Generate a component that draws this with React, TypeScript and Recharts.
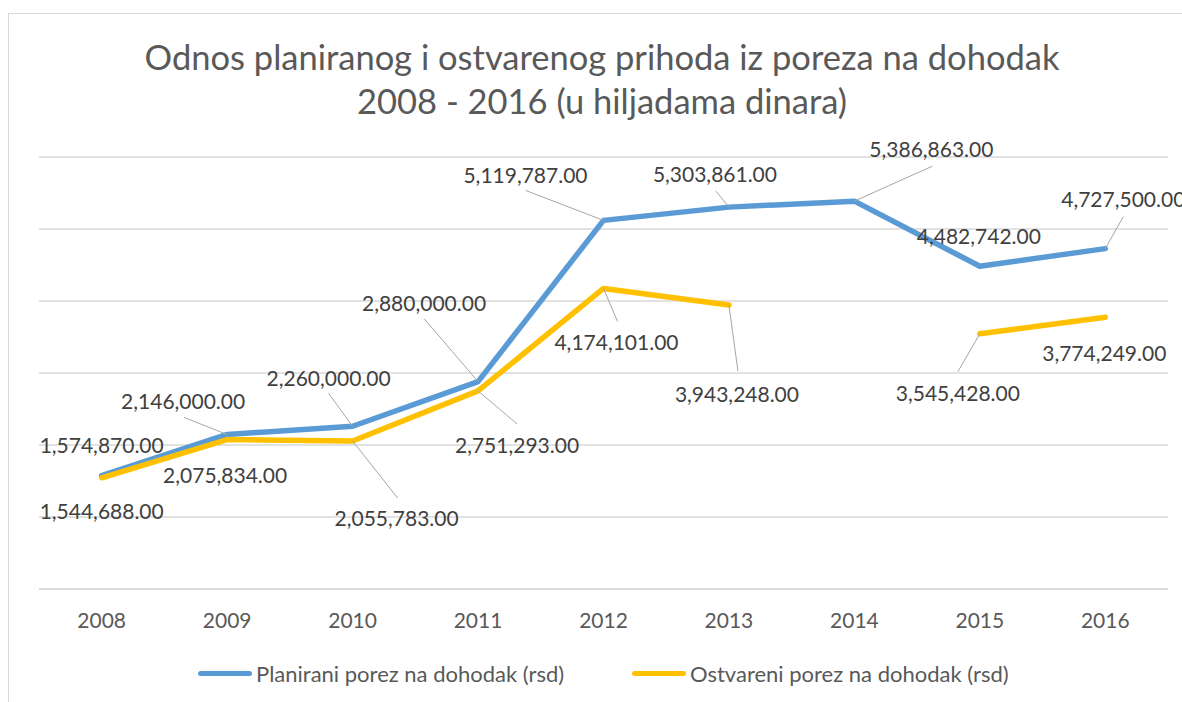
import { LineChart, Line, XAxis, YAxis, CartesianGrid, Legend, LabelList } from 'recharts'

const years = ['2008', '2009', '2010', '2011', '2012', '2013', '2014', '2015', '2016']
const planned = [1574870, 2146000, 2260000, 2880000, 5119787, 5303861, 5386863, 4482742, 4727500]
const realized = [1544688, 2075834, 2055783, 2751293, 4174101, 3943248, null, 3545428, 3774249]
const yTicks = [0, 1000000, 2000000, 3000000, 4000000, 5000000, 6000000]

const seriesNames = ['Planirani porez na dohodak (rsd)', 'Ostvareni porez na dohodak (rsd)']

const data = years.map((year, i) => ({ year, planned: planned[i], realized: realized[i] }))

// where each data label sits relative to its point (dx/dy = text centre, lx/ly = leader line end)
const plannedLabelPos = [
  { dx: 0, dy: -31 },
  { dx: -44, dy: -34, lx: -43, ly: -17 },
  { dx: -24, dy: -49, lx: -24, ly: -33 },
  { dx: -54, dy: -79, lx: -54, ly: -63 },
  { dx: -78, dy: -46, lx: -78, ly: -30 },
  { dx: -14, dy: -34, lx: -13, ly: -16 },
  { dx: 77, dy: -53, lx: 78, ly: -35 },
  { dx: -1, dy: -31 },
  { dx: 18, dy: -50, lx: 18, ly: -32 },
]
const realizedLabelPos = [
  { dx: 0, dy: 33 },
  { dx: -2, dy: 35 },
  { dx: 44, dy: 77, lx: 45, ly: 57 },
  { dx: 39, dy: 54, lx: 39, ly: 33 },
  { dx: 13, dy: 53, lx: 14, ly: 33 },
  { dx: 8, dy: 88, lx: 9, ly: 66 },
  null,
  { dx: -22, dy: 59, lx: -22, ly: 38 },
  { dx: -1, dy: 35 },
]
const legendLeft = [189, 623]

const FONT = 'Lato, "Open Sans", sans-serif'

const fmt = (v: number) =>
  v.toLocaleString('en-US', { minimumFractionDigits: 2, maximumFractionDigits: 2 })

const makeLabel = (pos) => (props) => {
  const { x, y, value, index } = props
  const p = pos[index]
  if (value == null || !p) return null
  return (
    <g>
      {p.lx != null && (
        <line x1={x} y1={y} x2={x + p.lx} y2={y + p.ly} stroke="#a6a6a6" strokeWidth={1} />
      )}
      <text
        x={x + p.dx}
        y={y + p.dy}
        textAnchor="middle"
        dominantBaseline="central"
        fill="#404040"
        fontSize={21}
        fontFamily={FONT}
      >
        {fmt(value)}
      </text>
    </g>
  )
}

const renderLegend = (props) => {
  const items = [...(props.payload || [])].sort(
    (a, b) => seriesNames.indexOf(a.value) - seriesNames.indexOf(b.value)
  )
  return (
    <div style={{ position: 'relative', height: 40, fontFamily: FONT, fontSize: 22, color: '#595959' }}>
      {items.map((entry, i) => (
        <div
          key={entry.value}
          style={{ position: 'absolute', left: legendLeft[i], top: 0, height: 22, display: 'flex', alignItems: 'center' }}
        >
          <div style={{ width: 54, height: 5, borderRadius: 3, background: entry.color, marginRight: 4 }} />
          <span style={{ whiteSpace: 'nowrap' }}>{entry.value}</span>
        </div>
      ))}
    </div>
  )
}

export default function App() {
  return (
    <div
      style={{
        position: 'fixed',
        left: 8,
        top: 13,
        width: 1173,
        height: 688,
        borderTop: '1px solid #d9d9d9',
        borderLeft: '1px solid #d9d9d9',
        background: '#fff',
        overflow: 'hidden',
      }}
    >
      <div
        style={{
          position: 'absolute',
          top: 21,
          left: 0,
          width: 1186,
          textAlign: 'center',
          fontFamily: FONT,
          fontSize: 34.5,
          lineHeight: '44px',
          color: '#595959',
          pointerEvents: 'none',
        }}
      >
        Odnos planiranog i ostvarenog prihoda iz poreza na dohodak
        <br />
        2008 - 2016 (u hiljadama dinara)
      </div>
      <LineChart width={1173} height={688} data={data} margin={{ top: 143, right: 14, bottom: 0, left: 30 }}>
        <CartesianGrid vertical={false} stroke="#d9d9d9" strokeWidth={1.5} />
        <XAxis
          dataKey="year"
          height={73}
          padding={{ left: 62.7, right: 62.7 }}
          tickLine={false}
          tickSize={0}
          tickMargin={24}
          axisLine={{ stroke: '#d9d9d9', strokeWidth: 1.5 }}
          tick={{ fill: '#595959', fontSize: 21, fontFamily: FONT }}
          interval={0}
        />
        <YAxis hide domain={[0, 6000000]} ticks={yTicks} />
        <Legend verticalAlign="bottom" content={renderLegend} wrapperStyle={{ left: 0, width: 1173 }} />
        <Line
          type="linear"
          dataKey="planned"
          name={seriesNames[0]}
          stroke="#5b9bd5"
          strokeWidth={5.5}
          strokeLinecap="round"
          strokeLinejoin="round"
          dot={false}
          activeDot={false}
          isAnimationActive={false}
        >
          <LabelList dataKey="planned" content={makeLabel(plannedLabelPos)} />
        </Line>
        <Line
          type="linear"
          dataKey="realized"
          name={seriesNames[1]}
          stroke="#ffc000"
          strokeWidth={5.5}
          strokeLinecap="round"
          strokeLinejoin="round"
          dot={false}
          activeDot={false}
          isAnimationActive={false}
        >
          <LabelList dataKey="realized" content={makeLabel(realizedLabelPos)} />
        </Line>
      </LineChart>
    </div>
  )
}
